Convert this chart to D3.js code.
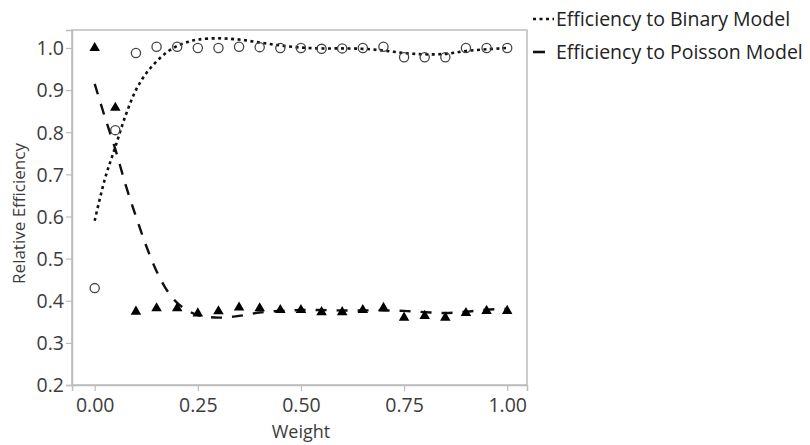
<!DOCTYPE html>
<html>
<head>
<meta charset="utf-8">
<script src="https://cdn.jsdelivr.net/npm/d3@7"></script>
<style>
  html, body { margin: 0; padding: 0; background: #fff; }
  svg { display: block; font-family: "Open Sans", "Noto Sans", sans-serif; }
</style>
</head>
<body>
<svg id="chart" width="810" height="445"></svg>
<script>
// ---- data ----
const weights = [0, 0.05, 0.1, 0.15, 0.2, 0.25, 0.3, 0.35, 0.4, 0.45, 0.5,
                 0.55, 0.6, 0.65, 0.7, 0.75, 0.8, 0.85, 0.9, 0.95, 1.0];
const binaryEff = [0.43, 0.805, 0.988, 1.003, 1.003, 1.0, 1.0, 1.003, 1.002, 1.0, 1.0,
                   0.998, 0.999, 1.0, 1.003, 0.978, 0.978, 0.978, 1.0, 1.0, 1.0];
const poissonEff = [1.0, 0.858, 0.374, 0.382, 0.382, 0.37, 0.375, 0.384, 0.382, 0.378, 0.378,
                    0.373, 0.373, 0.378, 0.383, 0.36, 0.364, 0.36, 0.371, 0.376, 0.376];
const fitX = [0, 0.025, 0.05, 0.075, 0.1, 0.125, 0.15, 0.175, 0.2, 0.225, 0.25, 0.3, 0.35,
              0.4, 0.45, 0.5, 0.55, 0.6, 0.65, 0.7, 0.75, 0.8, 0.85, 0.9, 0.95, 1.0];
const binaryFit = [0.59, 0.69, 0.765, 0.84, 0.9, 0.94, 0.968, 0.99, 1.005, 1.014, 1.02, 1.023, 1.02,
                   1.013, 1.006, 1.001, 0.999, 0.999, 0.998, 0.994, 0.988, 0.985, 0.986, 0.993, 0.997, 1.0];
const poissonFit = [0.915, 0.835, 0.76, 0.675, 0.6, 0.53, 0.47, 0.425, 0.395, 0.377, 0.366, 0.36, 0.364,
                    0.372, 0.376, 0.378, 0.378, 0.377, 0.377, 0.377, 0.376, 0.373, 0.371, 0.374, 0.379, 0.381];
const xTicks = [0, 0.25, 0.5, 0.75, 1.0];
const yTicks = [0.2, 0.3, 0.4, 0.5, 0.6, 0.7, 0.8, 0.9, 1.0];
const seriesNames = ["Efficiency to Binary Model", "Efficiency to Poisson Model"];
const axisTitles = { x: "Weight", y: "Relative Efficiency" };

// ---- layout ----
const plot = { left: 72, right: 527, top: 30, bottom: 385 };
const svg = d3.select("#chart");

const x = d3.scaleLinear().domain([-0.055, 1.048]).range([plot.left, plot.right]);
const y = d3.scaleLinear().domain([0.2, 1.0427]).range([plot.bottom, plot.top]);

const axisGray = "#bdbdbd";
const textCol = "#3c3c3c";

// frame
svg.append("rect")
  .attr("x", plot.left).attr("y", plot.top)
  .attr("width", plot.right - plot.left).attr("height", plot.bottom - plot.top)
  .attr("fill", "none").attr("stroke", axisGray).attr("stroke-width", 1.5);

// axes
const gx = svg.append("g").attr("transform", `translate(0,${plot.bottom})`)
  .call(d3.axisBottom(x).tickValues(xTicks).tickFormat(d3.format(".2f")).tickSizeOuter(0).tickSize(6).tickPadding(7));
const gy = svg.append("g").attr("transform", `translate(${plot.left},0)`)
  .call(d3.axisLeft(y).tickValues(yTicks).tickFormat(d3.format(".1f")).tickSizeOuter(0).tickSize(6).tickPadding(2));
[gx, gy].forEach(g => {
  g.select(".domain").attr("stroke", axisGray).attr("stroke-width", 1.5);
  g.selectAll(".tick line").attr("stroke", axisGray).attr("stroke-width", 1.2);
  g.selectAll(".tick text").attr("fill", textCol).style("font-size", "19.5px")
    .style("font-family", "'Open Sans', 'Noto Sans', sans-serif");
});
gy.selectAll(".tick text").attr("dy", "0.35em");

// axis titles
svg.append("text").attr("x", (x(0) + x(1)) / 2).attr("y", 438)
  .attr("text-anchor", "middle").attr("fill", textCol).style("font-size", "18px")
  .text(axisTitles.x);
svg.append("text").attr("transform", `translate(25,${(plot.top + plot.bottom) / 2 + 6}) rotate(-90)`)
  .attr("text-anchor", "middle").attr("fill", textCol).style("font-size", "17px")
  .text(axisTitles.y);

// fitted curves
const fitLine = vals => d3.line()
  .x((d, i) => x(fitX[i])).y(d => y(d))
  .curve(d3.curveCatmullRom.alpha(0.5))(vals);

svg.append("path").attr("d", fitLine(binaryFit))
  .attr("fill", "none").attr("stroke", "#111").attr("stroke-width", 2.6)
  .attr("stroke-dasharray", "3,3.5");
svg.append("path").attr("d", fitLine(poissonFit))
  .attr("fill", "none").attr("stroke", "#111").attr("stroke-width", 2.4)
  .attr("stroke-dasharray", "11,10");

// markers
svg.append("g").selectAll("circle").data(binaryEff).join("circle")
  .attr("cx", (d, i) => x(weights[i])).attr("cy", d => y(d))
  .attr("r", 4.6).attr("fill", "none").attr("stroke", "#444").attr("stroke-width", 1.3);

const tri = d3.symbol(d3.symbolTriangle, 48);
svg.append("g").selectAll("path").data(poissonEff).join("path")
  .attr("transform", (d, i) => `translate(${x(weights[i])},${y(d)})`)
  .attr("d", tri).attr("fill", "#000");

// legend
const legend = svg.append("g");
legend.append("line").attr("x1", 533).attr("x2", 554).attr("y1", 19).attr("y2", 19)
  .attr("stroke", "#111").attr("stroke-width", 2.6).attr("stroke-dasharray", "3,3.5");
legend.append("line").attr("x1", 533).attr("x2", 545).attr("y1", 52).attr("y2", 52)
  .attr("stroke", "#111").attr("stroke-width", 2.6);
legend.selectAll("text").data(seriesNames).join("text")
  .attr("x", 556).attr("y", (d, i) => 26 + i * 33)
  .attr("fill", "#222").style("font-size", "19.5px")
  .text(d => d);
</script>
</body>
</html>
